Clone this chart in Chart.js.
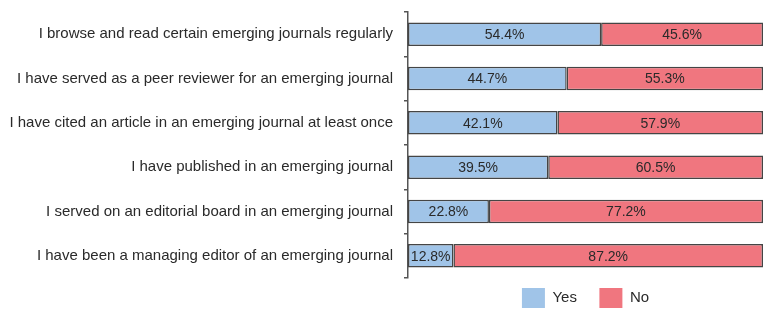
<!DOCTYPE html>
<html>
<head>
<meta charset="utf-8">
<script src="https://cdn.jsdelivr.net/npm/chart.js@4.4.1/dist/chart.umd.min.js"></script>
<style>
  html, body { margin: 0; padding: 0; background: #fff; }
  #wrap { width: 780px; height: 322px; }
</style>
</head>
<body>
<div id="wrap"><canvas id="grafico"></canvas></div>
<script>
// dados
const categorias = [
    "I browse and read certain emerging journals regularly",
    "I have served as a peer reviewer for an emerging journal",
    "I have cited an article in an emerging journal at least once",
    "I have published in an emerging journal",
    "I served on an editorial board in an emerging journal",
    "I have been a managing editor of an emerging journal"
];
const valoresSim = [54.4, 44.7, 42.1, 39.5, 22.8, 12.8];
const valoresNao = [45.6, 55.3, 57.9, 60.5, 77.2, 87.2];
const nomesSeries = ["Yes", "No"];

const FONTE = "'Liberation Sans', Arial, sans-serif";

// escreve o valor no meio de cada barra
const pluginRotulos = {
    id: 'rotulos-barras',
    afterDatasetsDraw(chart) {
        const { ctx } = chart;
        ctx.save();
        ctx.font = '14px ' + FONTE;
        ctx.fillStyle = '#2a2a2a';
        ctx.textAlign = 'center';
        ctx.textBaseline = 'middle';
        chart.data.datasets.forEach((ds, i) => {
            chart.getDatasetMeta(i).data.forEach((bar, j) => {
                const x = (bar.x + bar.base) / 2;
                ctx.fillText(ds.data[j].toFixed(1) + '%', x, bar.y + 1);
            });
        });
        ctx.restore();
    }
};

const ctx = document.getElementById('grafico').getContext('2d');
new Chart(ctx, {
    type: 'bar',
    data: {
        labels: categorias,
        datasets: [
            { label: nomesSeries[0], data: valoresSim, backgroundColor: '#a0c4e8', borderColor: '#454545', borderWidth: 1.5, borderSkipped: false },
            { label: nomesSeries[1], data: valoresNao, backgroundColor: '#f0767f', borderColor: '#454545', borderWidth: 1.5, borderSkipped: false }
        ]
    },
    options: {
        indexAxis: 'y',
        responsive: true,
        maintainAspectRatio: false,
        animation: false,
        datasets: { bar: { barPercentage: 0.53, categoryPercentage: 1 } },
        layout: { padding: { top: 12, right: 17, bottom: 4, left: 0 } },
        scales: {
            x: { stacked: true, min: 0, max: 100, display: false },
            y: {
                stacked: true,
                afterFit(scale) {
                    scale.width = 408;
                    scale.paddingTop = 0;
                    scale.paddingBottom = 0;
                },
                border: { display: true, color: '#555', width: 1.5 },
                grid: { drawOnChartArea: false, tickLength: 4, color: '#555', lineWidth: 1.5 },
                ticks: { color: '#2a2a2a', padding: 11, font: { family: FONTE, size: 15 } }
            }
        },
        plugins: {
            legend: {
                position: 'bottom',
                fullSize: false,
                labels: {
                    boxWidth: 23, boxHeight: 20, padding: 10, color: '#2a2a2a',
                    font: { family: FONTE, size: 15 },
                    // quadrados sem contorno, e um pouco mais de espaço entre os itens
                    generateLabels(chart) {
                        const itens = Chart.defaults.plugins.legend.labels.generateLabels(chart);
                        itens.forEach((it, i) => {
                            it.lineWidth = 0;
                            it.strokeStyle = 'rgba(0,0,0,0)';
                            if (i < itens.length - 1) it.text = it.text + '   ';
                        });
                        return itens;
                    }
                }
            },
            tooltip: { enabled: false }
        }
    },
    plugins: [pluginRotulos]
});
</script>
</body>
</html>
